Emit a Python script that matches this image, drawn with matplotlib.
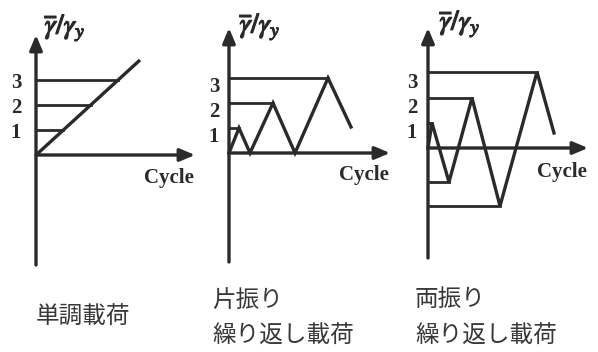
import matplotlib
matplotlib.use("Agg")
import matplotlib.pyplot as plt
import matplotlib.patheffects as pe

# loading histories in units of gamma_bar / gamma_y (x in cycle units)
levels = [1, 2, 3]
mono_x = [0.0, 4.16]
mono_y = [0.0, 3.8]
one_x = [0.0, 0.4, 0.84, 1.76, 2.64, 3.96, 4.88]
one_y = [0.0, 1.0, 0.0, 2.0, 0.0, 3.0, 1.04]
two_x = [0.0, 0.16, 0.84, 1.76, 2.88, 4.36, 5.04]
two_y = [0.0, 1.0, -1.36, 2.0, -2.32, 3.04, 0.6]
captions = [["単調載荷"], ["片振り", "繰り返し載荷"], ["両振り", "繰り返し載荷"]]

W, H, DPI = 598, 352, 100
U = 25.0  # px per unit
INK = "#2a2a2a"
XL = (-1.6, 6.8)
YL = (-4.6, 5.6)

plt.rcParams["mathtext.fontset"] = "stix"
fig = plt.figure(figsize=(W / DPI, H / DPI), dpi=DPI)
fig.patch.set_facecolor("white")


def panel(ox, oy, ybot, ytop, xtip, lab_dx, lab_dy, head):
    left = ox + XL[0] * U
    top = oy - YL[1] * U
    ax = fig.add_axes([left / W, 1 - (top + (YL[1] - YL[0]) * U) / H,
                       (XL[1] - XL[0]) * U / W, (YL[1] - YL[0]) * U / H])
    ax.set_xlim(*XL)
    ax.set_ylim(*YL)
    ax.axis("off")
    arrow = dict(arrowstyle="-|>,head_length=0.9,head_width=0.38", lw=2.4,
                 color=INK, mutation_scale=10, shrinkA=0, shrinkB=0)
    ax.annotate("", xy=(0, ytop), xytext=(0, ybot), arrowprops=arrow)
    ax.annotate("", xy=(xtip, 0), xytext=(0, 0), arrowprops=arrow)
    ax.text(head[0], head[1], r"$\overline{\gamma}/\gamma_y$", fontsize=20,
            ha="center", va="center", color=INK,
            path_effects=[pe.withStroke(linewidth=0.9, foreground=INK)])
    ax.text(head[2], head[3], "Cycle", fontsize=15, fontweight="bold",
            family="Liberation Serif", ha="center", va="center", color=INK)
    for lv in levels:
        ax.text(lab_dx, lv - lab_dy, str(lv), fontsize=15, fontweight="bold",
                family="Liberation Serif", ha="center", va="center", color=INK)
    return ax


# monotonic
ax1 = panel(36, 155, -4.4, 4.8, 6.36, -0.8, 0.13, (1.16, 5.08, 5.32, -0.92))
ax1.plot(mono_x, mono_y, color=INK, lw=2.4, solid_capstyle="butt")
slope = (mono_y[1] - mono_y[0]) / (mono_x[1] - mono_x[0])
for lv in levels:
    ax1.plot([0, lv / slope], [lv, lv], color=INK, lw=2.0)

# one-sided cyclic
ax2 = panel(229, 153, -4.36, 5.0, 6.44, -0.6, 0.37, (1.24, 5.04, 5.4, -0.88))
ax2.plot(one_x, one_y, color=INK, lw=2.4, solid_joinstyle="miter")
for x, y in zip(one_x[1:-1:2], one_y[1:-1:2]):
    ax2.plot([0, x], [y, y], color=INK, lw=2.0)

# fully reversed cyclic
ax3 = panel(428, 148, -4.4, 4.8, 6.4, -0.64, 0.38, (1.28, 4.96, 5.36, -0.96))
ax3.plot(two_x, two_y, color=INK, lw=2.4, solid_joinstyle="miter")
for x, y in zip(two_x[1:-1], two_y[1:-1]):
    ax3.plot([0, x], [y, y], color=INK, lw=2.0)

# captions
cap_pos = [(36, [317]), (212, [300, 336]), (415, [300, 336])]
for (lx, ys), lines in zip(cap_pos, captions):
    for yy, s in zip(ys, lines):
        fig.text(lx / W, 1 - yy / H, s, fontsize=17, color="#383838",
                 family=["Noto Sans CJK JP", "DejaVu Sans"],
                 ha="left", va="center")

fig.savefig("out.png", dpi=DPI, facecolor="white")
